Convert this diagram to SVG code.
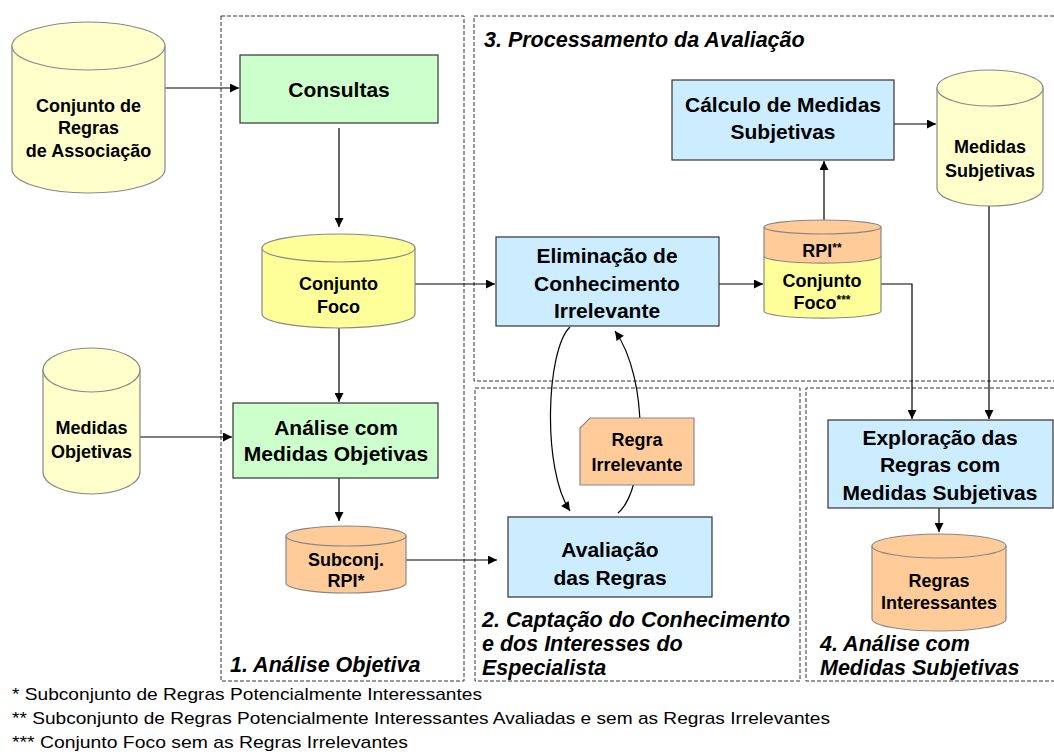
<svg xmlns="http://www.w3.org/2000/svg" width="1054" height="754" viewBox="0 0 1054 754">
<defs>
<marker id="arr" viewBox="0 0 10 10" refX="10" refY="5" markerWidth="10" markerHeight="9" markerUnits="userSpaceOnUse" orient="auto">
<path d="M0,0 L10,5 L0,10 Z" fill="#000"/>
</marker>
<style>
.zone{fill:none;stroke:#333;stroke-width:1;stroke-dasharray:4,2}
.box{stroke:#333;stroke-width:1.2}
.green{fill:#CCFFCC}
.blue{fill:#CCECFF}
.ly{fill:#FFFFCC}
.yy{fill:#FFFF99}
.or{fill:#FFCC99}
.cyl{stroke:#888;stroke-width:1.2}
.t{font-family:"Liberation Sans",Arial,sans-serif;font-weight:bold;text-anchor:middle;fill:#000}
.bt{font-size:21px}
.ct{font-size:18px}
.sec{font-family:"Liberation Sans",Arial,sans-serif;font-weight:bold;font-style:italic;font-size:21.5px;fill:#000}
.fn{font-family:"Liberation Sans",Arial,sans-serif;font-size:17px;fill:#000}
.c{fill:none;stroke:#000;stroke-width:1.2;marker-end:url(#arr)}
</style>
</defs>
<rect width="1054" height="754" fill="#fff"/>

<g id="zones">
<rect class="zone" x="221" y="16" width="243" height="665"/>
<path class="zone" d="M1054,16 H474 V381 H1054"/>
<rect class="zone" x="475" y="388" width="325" height="293"/>
<path class="zone" d="M1054,388 H806 V681 H1054"/>
<text class="sec" x="484" y="47">3. Processamento da Avaliação</text>
<text class="sec" x="230" y="672">1. Análise Objetiva</text>
<text class="sec" x="482" y="627">2. Captação do Conhecimento</text>
<text class="sec" x="482" y="651">e dos Interesses do</text>
<text class="sec" x="482" y="675">Especialista</text>
<text class="sec" x="820" y="651">4. Análise com</text>
<text class="sec" x="820" y="675">Medidas Subjetivas</text>
</g>

<g id="connectors">
<path class="c" d="M165,88 H239"/>
<path class="c" d="M339,128 V227"/>
<path class="c" d="M339,328 V402"/>
<path class="c" d="M140,437 H232"/>
<path class="c" d="M339,478 V521"/>
<path class="c" d="M406,560 H497"/>
<path class="c" d="M415,284 H495"/>
<path class="c" d="M719,284 H763"/>
<path class="c" d="M824,220 V161"/>
<path class="c" d="M894,124 H936"/>
<path class="c" d="M989,206 V419"/>
<path class="c" d="M881,284 H912 V419"/>
<path class="c" d="M939,508 V532"/>
<path class="c" d="M570,327 C546,350 542,470 570,511"/>
<path class="c" d="M618,513 C646,490 650,380 615,331"/>
</g>

<g id="conjunto-regras">
<path class="cyl ly" d="M12,46 V169 A76.5,24 0 0 0 165,169 V46 Z"/>
<ellipse class="cyl ly" cx="88.5" cy="46" rx="76.5" ry="24"/>
<text class="t ct" x="88.5" y="112">Conjunto de</text>
<text class="t ct" x="88.5" y="134">Regras</text>
<text class="t ct" x="88.5" y="157">de Associação</text>
</g>

<g id="consultas">
<rect class="box green" x="240" y="55" width="198" height="68"/>
<text class="t bt" x="339" y="97">Consultas</text>
</g>

<g id="conjunto-foco">
<path class="cyl yy" d="M262,248 V314 A76.5,14 0 0 0 415,314 V248 Z"/>
<ellipse class="cyl yy" cx="338.5" cy="248" rx="76.5" ry="14"/>
<text class="t ct" x="338.5" y="290">Conjunto</text>
<text class="t ct" x="338.5" y="313">Foco</text>
</g>

<g id="medidas-objetivas">
<path class="cyl ly" d="M43,370 V472 A48.5,22 0 0 0 140,472 V370 Z"/>
<ellipse class="cyl ly" cx="91.5" cy="370" rx="48.5" ry="22"/>
<text class="t ct" x="91.5" y="434">Medidas</text>
<text class="t ct" x="91.5" y="458">Objetivas</text>
</g>

<g id="analise">
<rect class="box green" x="233" y="403" width="205" height="75"/>
<text class="t bt" x="336" y="435">Análise com</text>
<text class="t bt" x="336" y="461">Medidas Objetivas</text>
</g>

<g id="subconj">
<path class="cyl or" d="M286,536 V583 A60,10 0 0 0 406,583 V536 Z"/>
<ellipse class="cyl or" cx="346" cy="536" rx="60" ry="10"/>
<text class="t ct" x="346" y="566">Subconj.</text>
<text class="t ct" x="346" y="587">RPI*</text>
</g>

<g id="eliminacao">
<rect class="box blue" x="496" y="237" width="223" height="89"/>
<text class="t bt" x="607" y="263">Eliminação de</text>
<text class="t bt" x="607" y="291">Conhecimento</text>
<text class="t bt" x="607" y="318">Irrelevante</text>
</g>

<g id="rpi-foco">
<path class="yy" d="M764,227 V311 A58,7 0 0 0 881,311 V227 Z"/>
<path class="or" d="M764,227 V256 A58,7 0 0 0 881,256 V227 Z"/>
<path fill="none" stroke="#888" stroke-width="1.2" d="M764,227 V311 A58,7 0 0 0 881,311 V227"/>
<path fill="none" stroke="#888" stroke-width="1.2" d="M764,256 A58,7 0 0 0 881,256"/>
<ellipse class="cyl or" cx="822.5" cy="227" rx="58.5" ry="7"/>
<text class="t ct" x="822" y="257">RPI<tspan font-size="12" dy="-5">**</tspan></text>
<text class="t ct" x="822" y="287">Conjunto</text>
<text class="t ct" x="822" y="309">Foco<tspan font-size="12" dy="-5">***</tspan></text>
</g>

<g id="calculo">
<rect class="box blue" x="672" y="80" width="222" height="80"/>
<text class="t bt" x="783" y="112">Cálculo de Medidas</text>
<text class="t bt" x="783" y="139">Subjetivas</text>
</g>

<g id="medidas-subjetivas">
<path class="cyl ly" d="M937,88 V188 A53,18 0 0 0 1043,188 V88 Z"/>
<ellipse class="cyl ly" cx="990" cy="88" rx="53" ry="18"/>
<text class="t ct" x="990" y="153">Medidas</text>
<text class="t ct" x="990" y="177">Subjetivas</text>
</g>

<g id="regra-irrelevante">
<path class="or" stroke="#888" stroke-width="1.2" d="M590,418 H694 V485 H580 V428 Z"/>
<text class="t ct" x="637" y="446">Regra</text>
<text class="t ct" x="637" y="471">Irrelevante</text>
</g>

<g id="avaliacao">
<rect class="box blue" x="508" y="517" width="204" height="80"/>
<text class="t bt" x="610" y="557">Avaliação</text>
<text class="t bt" x="610" y="585">das Regras</text>
</g>

<g id="exploracao">
<rect class="box blue" x="828" y="420" width="225" height="88"/>
<text class="t bt" x="940" y="445">Exploração das</text>
<text class="t bt" x="940" y="472">Regras com</text>
<text class="t bt" x="940" y="500">Medidas Subjetivas</text>
</g>

<g id="regras-interessantes">
<path class="cyl or" d="M872,546 V619 A67,12 0 0 0 1006,619 V546 Z"/>
<ellipse class="cyl or" cx="939" cy="546" rx="67" ry="12"/>
<text class="t ct" x="939" y="587">Regras</text>
<text class="t ct" x="939" y="609">Interessantes</text>
</g>

<g id="footnotes">
<text class="fn" x="12" y="700" textLength="470" lengthAdjust="spacingAndGlyphs">* Subconjunto de Regras Potencialmente Interessantes</text>
<text class="fn" x="12" y="724" textLength="818" lengthAdjust="spacingAndGlyphs">** Subconjunto de Regras Potencialmente Interessantes Avaliadas e sem as Regras Irrelevantes</text>
<text class="fn" x="12" y="748" textLength="396" lengthAdjust="spacingAndGlyphs">*** Conjunto Foco sem as Regras Irrelevantes</text>
</g>
</svg>
